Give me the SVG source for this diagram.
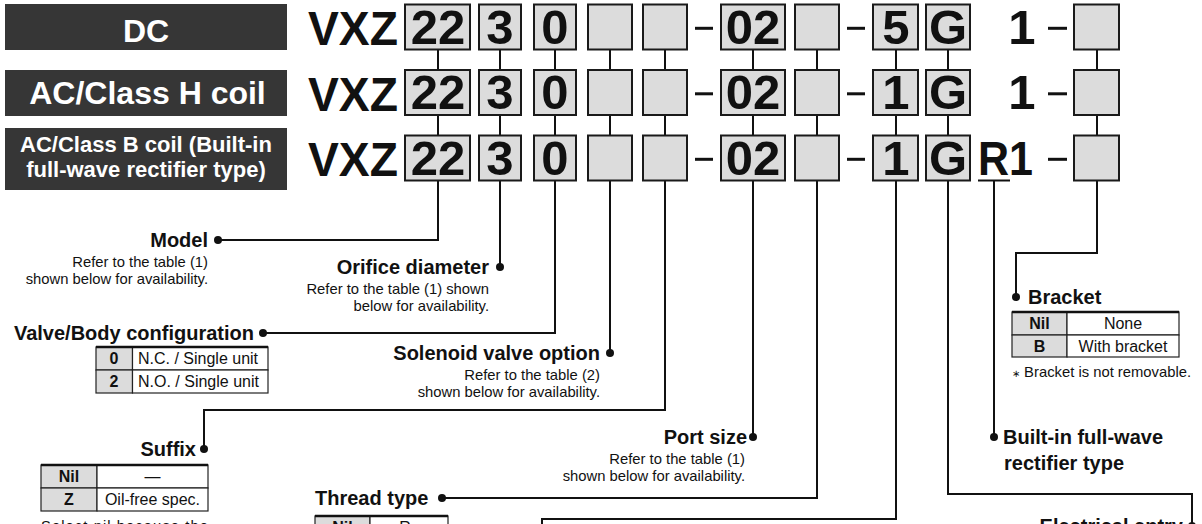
<svg xmlns="http://www.w3.org/2000/svg" width="1202" height="524" viewBox="0 0 1202 524">
<defs>
<style>
text{font-family:"Liberation Sans",Arial,Helvetica,sans-serif;fill:#111}
.lbl{fill:#363636}
.lt{font-weight:bold;fill:#fff;text-anchor:middle}
.box{fill:#dcdcdc;stroke:#1a1a1a;stroke-width:2}
.code{font-weight:bold;font-size:49px;text-anchor:middle}
.vxz{font-weight:bold;font-size:48px}
.dash{stroke:#111;stroke-width:3}
.cn{fill:none;stroke:#111;stroke-width:2}
.dot{fill:#111}
.h{font-weight:bold;font-size:20px}
.s{font-size:14.8px}
.r{text-anchor:end}
.c{text-anchor:middle}
.t{font-size:16px}
.tb{font-size:16px;font-weight:bold}
.cw{fill:#fff;stroke:#222;stroke-width:1.2}
.cg{fill:#dcdcdc;stroke:#222;stroke-width:1.2}
.top{stroke:#111;stroke-width:2.4}
</style>
</defs>
<rect width="1202" height="524" fill="#fff"/>

<g id="label-dc">
<rect class="lbl" x="5" y="4" width="282" height="46"/>
<text class="lt" x="146" y="41.5" font-size="32">DC</text>
</g>
<g id="label-ach">
<rect class="lbl" x="5" y="70" width="282" height="46"/>
<text class="lt" x="147.5" y="104" font-size="32">AC/Class H coil</text>
</g>
<g id="label-acb">
<rect class="lbl" x="5" y="128" width="282" height="62"/>
<text class="lt" x="146" y="151.5" font-size="22">AC/Class B coil (Built-in</text>
<text class="lt" x="146" y="177" font-size="22">full-wave rectifier type)</text>
</g>

<g id="connectors">
<path class="cn" d="M438 50V70M438 115V136M500 50V70M500 115V136M555 50V70M555 115V136M610 50V70M610 115V136M665 50V70M665 115V136M753 50V70M753 115V136M817 50V70M817 115V136M896 50V70M896 115V136M948 50V70M948 115V136M1097 50V70M1097 115V136"/>
<path class="cn" d="M438 181V240H218"/>
<path class="cn" d="M500 181V267"/>
<path class="cn" d="M555 181V333H263"/>
<path class="cn" d="M610 181V353"/>
<path class="cn" d="M665 181V410H204V449"/>
<path class="cn" d="M753 181V437"/>
<path class="cn" d="M817 181V498H442"/>
<path class="cn" d="M896 181V519H542V530"/>
<path class="cn" d="M948 181V494H1192V526"/>
<path class="cn" d="M994 181V437"/>
<path class="cn" d="M1097 181V253H1016V297"/>
<line x1="978" y1="180.5" x2="1010" y2="180.5" stroke="#111" stroke-width="2"/>
<circle class="dot" cx="218" cy="240" r="4"/>
<circle class="dot" cx="500" cy="267" r="4"/>
<circle class="dot" cx="263" cy="333" r="4"/>
<circle class="dot" cx="610" cy="353" r="4"/>
<circle class="dot" cx="204" cy="449" r="4"/>
<circle class="dot" cx="753" cy="437" r="4"/>
<circle class="dot" cx="442" cy="498" r="4"/>
<circle class="dot" cx="1192" cy="526" r="4"/>
<circle class="dot" cx="994" cy="437" r="4"/>
<circle class="dot" cx="1016" cy="297" r="4"/>
</g>

<g id="row-dc">
<text class="vxz" x="308" y="45" textLength="90" lengthAdjust="spacingAndGlyphs">VXZ</text>
<rect class="box" x="405" y="4.5" width="65" height="45"/><text class="code" x="438" y="43.5">22</text>
<rect class="box" x="479" y="4.5" width="42" height="45"/><text class="code" x="500" y="43.5">3</text>
<rect class="box" x="534" y="4.5" width="42" height="45"/><text class="code" x="555" y="43.5">0</text>
<rect class="box" x="588" y="4.5" width="44" height="45"/>
<rect class="box" x="643" y="4.5" width="44" height="45"/>
<line class="dash" x1="695" y1="28.3" x2="713" y2="28.3"/>
<rect class="box" x="721" y="4.5" width="64" height="45"/><text class="code" x="753" y="43.5">02</text>
<rect class="box" x="795" y="4.5" width="44" height="45"/>
<line class="dash" x1="847" y1="28.3" x2="865" y2="28.3"/>
<rect class="box" x="873" y="4.5" width="45" height="45"/><text class="code" x="896" y="43.5">5</text>
<rect class="box" x="926" y="4.5" width="44" height="45"/><text class="code" x="948" y="43.5">G</text>
<text class="code" x="1022" y="43.5">1</text>
<line class="dash" x1="1048" y1="28.3" x2="1067" y2="28.3"/>
<rect class="box" x="1074" y="4.5" width="45" height="45"/>
</g>

<g id="row-ach" transform="translate(0,65.5)">
<text class="vxz" x="308" y="45" textLength="90" lengthAdjust="spacingAndGlyphs">VXZ</text>
<rect class="box" x="405" y="4.5" width="65" height="45"/><text class="code" x="438" y="43.5">22</text>
<rect class="box" x="479" y="4.5" width="42" height="45"/><text class="code" x="500" y="43.5">3</text>
<rect class="box" x="534" y="4.5" width="42" height="45"/><text class="code" x="555" y="43.5">0</text>
<rect class="box" x="588" y="4.5" width="44" height="45"/>
<rect class="box" x="643" y="4.5" width="44" height="45"/>
<line class="dash" x1="695" y1="28.3" x2="713" y2="28.3"/>
<rect class="box" x="721" y="4.5" width="64" height="45"/><text class="code" x="753" y="43.5">02</text>
<rect class="box" x="795" y="4.5" width="44" height="45"/>
<line class="dash" x1="847" y1="28.3" x2="865" y2="28.3"/>
<rect class="box" x="873" y="4.5" width="45" height="45"/><text class="code" x="896" y="43.5">1</text>
<rect class="box" x="926" y="4.5" width="44" height="45"/><text class="code" x="948" y="43.5">G</text>
<text class="code" x="1022" y="43.5">1</text>
<line class="dash" x1="1048" y1="28.3" x2="1067" y2="28.3"/>
<rect class="box" x="1074" y="4.5" width="45" height="45"/>
</g>

<g id="row-acb" transform="translate(0,131)">
<text class="vxz" x="308" y="45" textLength="90" lengthAdjust="spacingAndGlyphs">VXZ</text>
<rect class="box" x="405" y="4.5" width="65" height="45"/><text class="code" x="438" y="43.5">22</text>
<rect class="box" x="479" y="4.5" width="42" height="45"/><text class="code" x="500" y="43.5">3</text>
<rect class="box" x="534" y="4.5" width="42" height="45"/><text class="code" x="555" y="43.5">0</text>
<rect class="box" x="588" y="4.5" width="44" height="45"/>
<rect class="box" x="643" y="4.5" width="44" height="45"/>
<line class="dash" x1="695" y1="28.3" x2="713" y2="28.3"/>
<rect class="box" x="721" y="4.5" width="64" height="45"/><text class="code" x="753" y="43.5">02</text>
<rect class="box" x="795" y="4.5" width="44" height="45"/>
<line class="dash" x1="847" y1="28.3" x2="865" y2="28.3"/>
<rect class="box" x="873" y="4.5" width="45" height="45"/><text class="code" x="896" y="43.5">1</text>
<rect class="box" x="926" y="4.5" width="44" height="45"/><text class="code" x="948" y="43.5">G</text>
<text class="code" x="978" y="43.5" style="text-anchor:start" textLength="55" lengthAdjust="spacingAndGlyphs">R1</text>
<line class="dash" x1="1048" y1="28.3" x2="1067" y2="28.3"/>
<rect class="box" x="1074" y="4.5" width="45" height="45"/>
</g>

<g id="model">
<text class="h r" x="208" y="247">Model</text>
<text class="s r" x="208" y="267">Refer to the table (1)</text>
<text class="s r" x="208" y="284">shown below for availability.</text>
</g>

<g id="orifice">
<text class="h r" x="489" y="274">Orifice diameter</text>
<text class="s r" x="489" y="294">Refer to the table (1) shown</text>
<text class="s r" x="489" y="311">below for availability.</text>
</g>

<g id="valve-body">
<text class="h r" x="254" y="340">Valve/Body configuration</text>
<rect class="cg" x="96" y="347" width="36.5" height="23"/>
<rect class="cw" x="132.5" y="347" width="135.5" height="23"/>
<rect class="cg" x="96" y="370" width="36.5" height="23"/>
<rect class="cw" x="132.5" y="370" width="135.5" height="23"/>
<line class="top" x1="96" y1="347" x2="268" y2="347"/>
<text class="tb c" x="114" y="364">0</text>
<text class="t" x="138" y="364">N.C. / Single unit</text>
<text class="tb c" x="114" y="387">2</text>
<text class="t" x="138" y="387">N.O. / Single unit</text>
</g>

<g id="solenoid">
<text class="h r" x="600" y="360">Solenoid valve option</text>
<text class="s r" x="600" y="380">Refer to the table (2)</text>
<text class="s r" x="600" y="397">shown below for availability.</text>
</g>

<g id="suffix">
<text class="h r" x="196" y="456">Suffix</text>
<rect class="cg" x="41" y="465" width="56" height="23"/>
<rect class="cw" x="97" y="465" width="111" height="23"/>
<rect class="cg" x="41" y="488" width="56" height="23"/>
<rect class="cw" x="97" y="488" width="111" height="23"/>
<line class="top" x1="41" y1="465" x2="208" y2="465"/>
<text class="tb c" x="69" y="482">Nil</text>
<text class="t c" x="152.5" y="482">—</text>
<text class="tb c" x="69" y="505">Z</text>
<text class="t c" x="152.5" y="505">Oil-free spec.</text>
<text class="s" x="41" y="531" textLength="167" lengthAdjust="spacing">Select nil because the</text>
</g>

<g id="thread">
<text class="h" x="315" y="505">Thread type</text>
<rect class="cg" x="315" y="516" width="55" height="23"/>
<rect class="cw" x="370" y="516" width="78" height="23"/>
<line class="top" x1="315" y1="516" x2="448" y2="516"/>
<text class="tb c" x="342.5" y="533">Nil</text>
<text class="t c" x="409" y="533">Rc</text>
</g>

<g id="port">
<text class="h r" x="747" y="444">Port size</text>
<text class="s r" x="745" y="464">Refer to the table (1)</text>
<text class="s r" x="745" y="481">shown below for availability.</text>
</g>

<g id="rectifier">
<text class="h" x="1003" y="444">Built-in full-wave</text>
<text class="h" x="1004" y="470">rectifier type</text>
</g>

<g id="bracket">
<text class="h" x="1028" y="304">Bracket</text>
<rect class="cg" x="1012" y="312" width="55" height="23"/>
<rect class="cw" x="1067" y="312" width="112" height="23"/>
<rect class="cg" x="1012" y="335" width="55" height="22"/>
<rect class="cw" x="1067" y="335" width="112" height="22"/>
<line class="top" x1="1012" y1="312" x2="1179" y2="312"/>
<text class="tb c" x="1039.5" y="329">Nil</text>
<text class="t c" x="1123" y="329">None</text>
<text class="tb c" x="1039.5" y="352">B</text>
<text class="t c" x="1123" y="352">With bracket</text>
<text class="s" x="1012" y="377"><tspan font-size="10">∗</tspan> Bracket is not removable.</text>
</g>

<g id="electrical">
<text class="h r" x="1183" y="533">Electrical entry</text>
</g>
</svg>
